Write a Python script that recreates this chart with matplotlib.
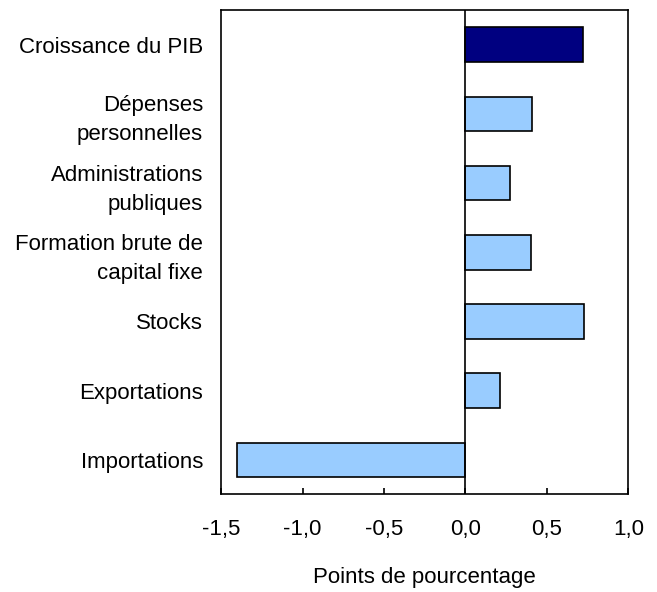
import matplotlib
matplotlib.use('Agg')
import matplotlib.pyplot as plt

categories = ['Croissance du PIB', 'Dépenses\npersonnelles', 'Administrations\npubliques',
              'Formation brute de\ncapital fixe', 'Stocks', 'Exportations', 'Importations']
values = [0.72, 0.41, 0.27, 0.40, 0.73, 0.21, -1.40]
colors = ['#000080', '#99CCFF', '#99CCFF', '#99CCFF', '#99CCFF', '#99CCFF', '#99CCFF']
xticks = [-1.5, -1.0, -0.5, 0.0, 0.5, 1.0]
xtick_labels = ['-1,5', '-1,0', '-0,5', '0,0', '0,5', '1,0']

plt.rcParams['font.family'] = ['Liberation Sans', 'DejaVu Sans']

fig = plt.figure(figsize=(6.57, 5.92), dpi=100)
ax = fig.add_axes([0.3364, 0.1647, 0.6202, 0.8184])

pos = list(range(len(categories)))[::-1]
ax.barh(pos, values, height=0.5, color=colors, edgecolor='black', linewidth=1.2, zorder=2)
ax.axvline(0, color='black', linewidth=1.2, zorder=3)

ax.set_xlim(-1.5, 1.0)
ax.set_ylim(-0.5, 6.5)
ax.set_xticks(xticks)
ax.set_xticklabels(xtick_labels, fontsize=16)
ax.tick_params(axis='x', direction='in', length=4, width=1.2, pad=18)
ax.set_yticks(pos)
ax.set_yticklabels(categories, fontsize=16, linespacing=1.5)
ax.tick_params(axis='y', length=0, pad=13)
for s in ax.spines.values():
    s.set_linewidth(1.2)

ax.set_xlabel('Points de pourcentage', fontsize=16, labelpad=19)

fig.savefig('out.png', dpi=100)
